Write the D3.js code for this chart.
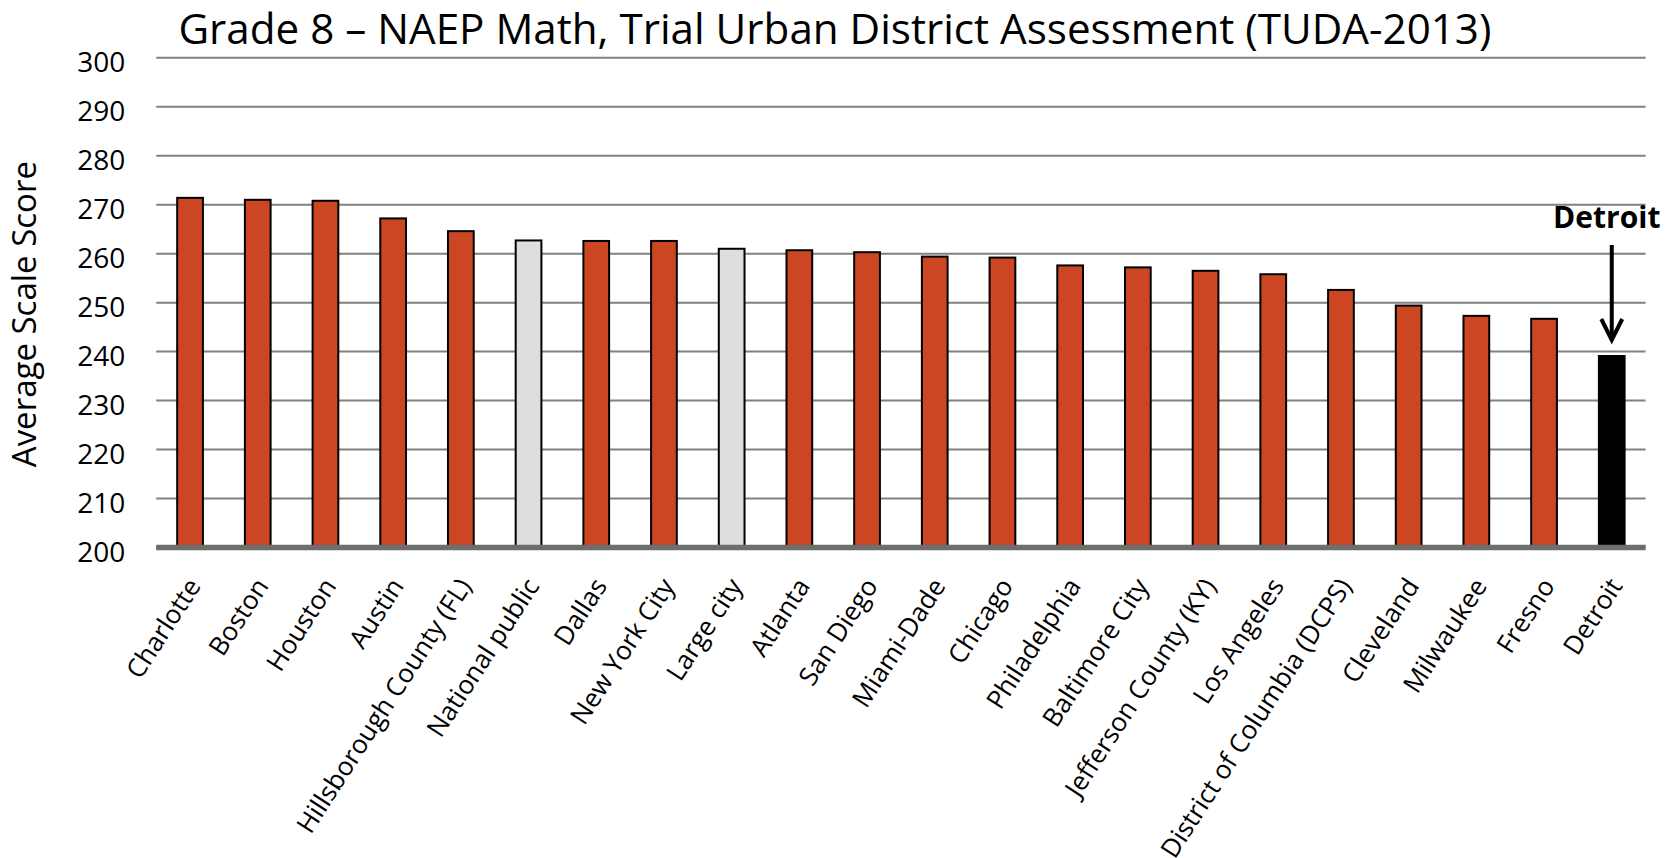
<!DOCTYPE html>
<html lang="en">
<head>
<meta charset="UTF-8">
<title>Grade 8 NAEP Math TUDA 2013</title>
<script src="https://cdn.jsdelivr.net/npm/d3@7"></script>
<style>
*{margin:0; padding:0;}
body{background:#fff;}
svg{display:block; font-family:"Open Sans", sans-serif;}
.bar{stroke:#000; stroke-width:2;}
</style>
</head>
<body>
<script>
var categories = ["Charlotte", "Boston", "Houston", "Austin", "Hillsborough County (FL)",
	"National public", "Dallas", "New York City", "Large city", "Atlanta", "San Diego",
	"Miami-Dade", "Chicago", "Philadelphia", "Baltimore City", "Jefferson County (KY)",
	"Los Angeles", "District of Columbia (DCPS)", "Cleveland", "Milwaukee", "Fresno", "Detroit"];
var scores = [271.3, 270.9, 270.7, 267.1, 264.5,
	262.6, 262.5, 262.5, 260.9, 260.6, 260.2,
	259.3, 259.1, 257.5, 257.1, 256.4,
	255.7, 252.5, 249.3, 247.2, 246.6, 239.0];
// district / benchmark (national, large city) / focus (Detroit)
var groups = ["district", "district", "district", "district", "district",
	"benchmark", "district", "district", "benchmark", "district", "district",
	"district", "district", "district", "district", "district",
	"district", "district", "district", "district", "district", "focus"];
var yTicks = [200, 210, 220, 230, 240, 250, 260, 270, 280, 290, 300];

var width = 1665, height = 858;
var plotLeft = 156.2, plotRight = 1645.6, plotTop = 57.3, plotBottom = 547;

var colors = {district: "#cc4623", benchmark: "#dedede", focus: "#000000"};

var data = categories.map(function(c, i){
	return {name: c, value: scores[i], group: groups[i]};
});

var svg = d3.select("body").append("svg")
	.attr("width", width)
	.attr("height", height);

var x = d3.scaleBand()
	.domain(categories)
	.range([plotLeft, plotRight])
	.paddingInner(0.62)
	.paddingOuter(0.31);

var y = d3.scaleLinear()
	.domain([200, 300])
	.range([plotBottom, plotTop]);

// gridlines + tick labels
var yAxis = svg.append("g")
	.attr("transform", "translate(" + plotLeft + ",0)")
	.call(d3.axisLeft(y).tickValues(yTicks).tickSize(-(plotRight - plotLeft)).tickPadding(31))
	.attr("font-family", null)
	.attr("font-size", null);
yAxis.select(".domain").remove();
yAxis.selectAll(".tick line")
	.attr("stroke", "#808080")
	.attr("stroke-width", 2);
yAxis.selectAll(".tick text")
	.attr("fill", "#000")
	.attr("font-size", 28)
	.attr("dy", "0.5em");

// bars
svg.append("g").selectAll("rect")
	.data(data)
	.enter()
	.append("rect")
	.attr("class", "bar")
	.attr("x", function(d){ return x(d.name); })
	.attr("y", function(d){ return y(d.value); })
	.attr("width", x.bandwidth())
	.attr("height", function(d){ return y(200) - y(d.value); })
	.attr("fill", function(d){ return colors[d.group]; });

// base line
svg.append("line")
	.attr("x1", plotLeft)
	.attr("x2", plotRight)
	.attr("y1", y(200) + 0.5)
	.attr("y2", y(200) + 0.5)
	.attr("stroke", "#6e6e6e")
	.attr("stroke-width", 5.5);

// category labels
var xAxis = svg.append("g")
	.attr("transform", "translate(0," + plotBottom + ")")
	.call(d3.axisBottom(x).tickSize(0))
	.attr("font-family", null)
	.attr("font-size", null);
xAxis.select(".domain").remove();
xAxis.selectAll(".tick text")
	.attr("fill", "#000")
	.attr("font-size", 26)
	.attr("x", 0)
	.attr("y", 0)
	.attr("dy", "0.35em")
	.attr("text-anchor", "end")
	.attr("transform", "translate(4,34) rotate(-57)");

// axis title
svg.append("text")
	.attr("transform", "translate(36," + ((plotTop + plotBottom) / 2 + 12) + ") rotate(-90)")
	.attr("text-anchor", "middle")
	.attr("font-size", 33)
	.text("Average Scale Score");

// chart title
svg.append("text")
	.attr("x", 178.4)
	.attr("y", 44.3)
	.attr("font-size", 42)
	.attr("textLength", 1313)
	.attr("lengthAdjust", "spacingAndGlyphs")
	.text("Grade 8 \u2013 NAEP Math, Trial Urban District Assessment (TUDA-2013)");

// Detroit callout
var detroit = data[data.length - 1];
var cx = x(detroit.name) + x.bandwidth() / 2;
var tipY = y(detroit.value) - 16;
svg.append("text")
	.attr("x", cx - 5)
	.attr("y", 227.7)
	.attr("text-anchor", "middle")
	.attr("font-size", 30)
	.attr("font-weight", "bold")
	.text("Detroit");
svg.append("line")
	.attr("x1", cx)
	.attr("x2", cx)
	.attr("y1", 245)
	.attr("y2", tipY - 1)
	.attr("stroke", "#000")
	.attr("stroke-width", 4);
svg.append("path")
	.attr("d", "M" + (cx - 10.5) + "," + (tipY - 21) + "L" + cx + "," + tipY + "L" + (cx + 10.5) + "," + (tipY - 21))
	.attr("fill", "none")
	.attr("stroke", "#000")
	.attr("stroke-width", 4);
</script>
</body>
</html>
